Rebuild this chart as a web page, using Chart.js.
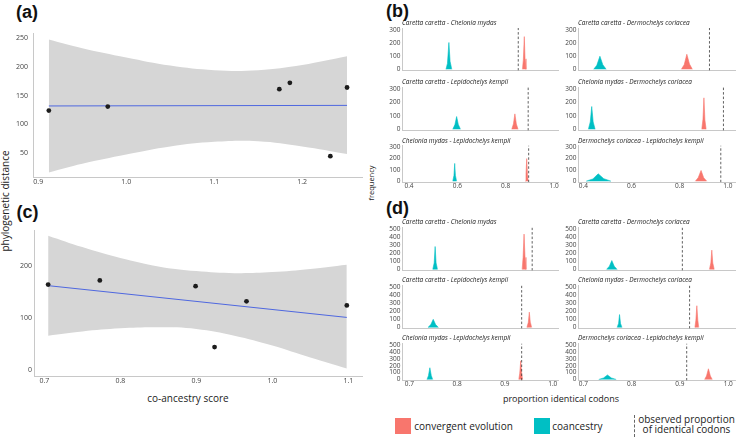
<!DOCTYPE html>
<html>
<head>
<meta charset="utf-8">
<script src="https://cdn.jsdelivr.net/npm/chart.js@4.4.1/dist/chart.umd.min.js"></script>
<style>
body{margin:0;background:#fff;}
#fig{position:relative;width:737px;height:437px;overflow:hidden;font-family:'Open Sans',sans-serif;color:#222;}
#fig canvas{position:absolute;}
.t{position:absolute;white-space:nowrap;}
.lab{font-family:'Liberation Sans',Arial,sans-serif;font-weight:bold;font-size:18px;line-height:18px;color:#111;}
.ft{font-style:italic;font-size:6.5px;line-height:8px;}
.key{position:absolute;width:16px;height:16px;}
</style>
</head>
<body>
<div id="fig">
  <div class="t lab" style="left:16px;top:3px">(a)</div>
  <div class="t lab" style="left:386px;top:1.5px">(b)</div>
  <div class="t lab" style="left:16.5px;top:203px">(c)</div>
  <div class="t lab" style="left:386px;top:198.5px">(d)</div>
  <div class="t" style="left:-70.4px;top:194.5px;width:150px;height:12px;line-height:12px;font-size:10px;text-align:center;transform:rotate(-90deg)">phylogenetic distance</div>
  <div class="t" style="left:88px;top:391.5px;width:200px;line-height:12px;font-size:10px;text-align:center">co-ancestry score</div>
  <div class="t" style="left:330.8px;top:177.5px;width:80px;height:10px;line-height:10px;font-size:7.5px;text-align:center;transform:rotate(-90deg)">frequency</div>
  <div class="t" style="left:461px;top:393.3px;width:200px;line-height:12px;font-size:9px;text-align:center">proportion identical codons</div>
  <div class="key" style="left:395px;top:418px;background:#F8766D"></div>
  <div class="t" style="left:414.3px;top:419.7px;line-height:12px;font-size:10px">convergent evolution</div>
  <div class="key" style="left:534px;top:418px;background:#00BFC4"></div>
  <div class="t" style="left:552.3px;top:419.7px;line-height:12px;font-size:10px">coancestry</div>
  <div style="position:absolute;left:634px;top:415px;height:22px;border-left:1px dashed #666"></div>
  <div class="t" style="left:626.5px;top:415.2px;width:120px;line-height:9.5px;font-size:10px;text-align:center">observed proportion<br>of identical codons</div>
</div>
<script>
// (a) co-ancestry (first set) vs phylogenetic distance
const aX = [0.912, 0.979, 1.174, 1.186, 1.232, 1.251];
const aY = [124, 131, 161, 172, 45, 164];
const aFitX = [0.912, 1.251];
const aFitY = [132, 133];
const aBandX = [0.912, 0.95, 1.0, 1.05, 1.1, 1.15, 1.2, 1.251];
const aBandHi = [247, 232, 216, 202, 194, 194, 203, 218];
const aBandLo = [17, 32, 48, 62, 70, 71, 62, 49];
const aTicksX = [0.9, 1.0, 1.1, 1.2];
const aTicksY = [50, 100, 150, 200, 250];

// (c)
const cX = [0.705, 0.773, 0.899, 0.924, 0.966, 1.098];
const cY = [164, 172, 161, 44, 132, 124];
const cFitX = [0.705, 1.098];
const cFitY = [162, 101];
const cBandX = [0.705, 0.75, 0.8, 0.85, 0.9, 0.95, 1.0, 1.05, 1.098];
const cBandHi = [258, 236, 215, 199, 190, 186, 188, 194, 202];
const cBandLo = [66, 74, 80, 82, 79, 66, 47, 24, 3];
const cTicksX = [0.7, 0.8, 0.9, 1.0, 1.1];
const cTicksY = [0, 100, 200];

const pairTitles = [
  'Caretta caretta - Chelonia mydas', 'Caretta caretta - Dermochelys coriacea',
  'Caretta caretta - Lepidochelys kempii', 'Chelonia mydas - Dermochelys coriacea',
  'Chelonia mydas - Lepidochelys kempii', 'Dermochelys coriacea - Lepidochelys kempii'
];

// (b) simulated distributions, [proportion, frequency]
const bObserved = [0.852, 0.924, 0.893, 0.982, 0.895, 0.971];
const bCoancestry = [
  [[0.553,0],[0.559,45],[0.565,205],[0.570,60],[0.577,0]],
  [[0.443,0],[0.456,30],[0.469,100],[0.481,35],[0.495,0]],
  [[0.581,0],[0.590,35],[0.597,95],[0.604,35],[0.613,0]],
  [[0.421,0],[0.429,55],[0.435,170],[0.441,55],[0.449,0]],
  [[0.581,0],[0.586,50],[0.589,157],[0.592,50],[0.597,0]],
  [[0.412,0],[0.440,20],[0.462,65],[0.485,22],[0.515,0]]
];
const bConvergent = [
  [[0.869,0],[0.873,70],[0.877,250],[0.880,80],[0.884,0]],
  [[0.807,0],[0.819,35],[0.830,115],[0.841,40],[0.853,0]],
  [[0.825,0],[0.832,40],[0.838,115],[0.844,40],[0.851,0]],
  [[0.892,0],[0.897,75],[0.901,235],[0.905,70],[0.910,0]],
  [[0.881,0],[0.884,60],[0.887,200],[0.890,60],[0.893,0]],
  [[0.865,0],[0.877,30],[0.889,95],[0.900,30],[0.913,0]]
];
const bTicksX = [0.4, 0.6, 0.8, 1.0];
const bTicksY = [0, 100, 200, 300];

// (d)
const dObserved = [0.957, 0.905, 0.935, 0.920, 0.935, 0.914];
const dCoancestry = [
  [[0.749,0],[0.752,80],[0.754,285],[0.756,80],[0.759,0]],
  [[0.748,0],[0.754,40],[0.759,110],[0.764,40],[0.770,0]],
  [[0.739,0],[0.745,35],[0.750,100],[0.755,35],[0.761,0]],
  [[0.770,0],[0.773,50],[0.775,160],[0.777,50],[0.780,0]],
  [[0.737,0],[0.740,55],[0.743,170],[0.746,55],[0.749,0]],
  [[0.732,0],[0.742,22],[0.750,65],[0.758,22],[0.768,0]]
];
const dConvergent = [
  [[0.936,0],[0.938,150],[0.940,440],[0.942,150],[0.944,0]],
  [[0.961,0],[0.964,80],[0.966,240],[0.968,80],[0.971,0]],
  [[0.946,0],[0.949,65],[0.951,190],[0.953,65],[0.956,0]],
  [[0.931,0],[0.933,90],[0.935,270],[0.937,90],[0.939,0]],
  [[0.929,0],[0.931,90],[0.933,270],[0.935,90],[0.937,0]],
  [[0.951,0],[0.955,50],[0.959,155],[0.963,50],[0.967,0]]
];
const dTicksX = [0.7, 0.8, 0.9, 1.0];
const dTicksY = [0, 100, 200, 300, 400, 500];

const RED = '#F8766D', TEAL = '#00BFC4';
const FONT = "'Open Sans', sans-serif";
const fig = document.getElementById('fig');

const pts = (xs, ys) => xs.map((x, i) => ({x: x, y: ys[i]}));
const pairs = arr => arr.map(p => ({x: p[0], y: p[1]}));

// canvas whose chart area lands on l,t,r,b of the page
function addCanvas(l, t, r, b, yw, xh) {
  const c = document.createElement('canvas');
  const left = Math.floor(l - yw), top = Math.floor(t - 6);
  const w = Math.ceil(r + 10 - left), h = Math.ceil(b + xh + 3 - top);
  c.width = w; c.height = h;
  c.style.left = left + 'px'; c.style.top = top + 'px';
  fig.appendChild(c);
  return {c, padding: {top: t - top, left: (l - yw) - left, right: w - (r - left), bottom: h - (b + xh - top)}};
}

function axis(min, max, ticks, o) {
  return {
    type: 'linear', min: min, max: max,
    grid: {display: false, drawTicks: false},
    border: {display: true, color: '#c8c8c8', width: 1},
    ticks: {display: o.show !== false, autoSkip: false, maxRotation: 0, padding: o.pad,
      color: '#444', font: {family: FONT, size: o.size}, callback: o.fmt},
    afterBuildTicks: s => { s.ticks = ticks.map(v => ({value: v})); },
    afterFit: s => { if (o.w != null) s.width = o.w; if (o.h != null) s.height = o.h; }
  };
}

function makeChart(box, datasets, xs, ys) {
  new Chart(box.c, {
    type: 'line',
    data: {datasets: datasets},
    options: {
      responsive: false, animation: false, events: [],
      layout: {padding: box.padding},
      plugins: {legend: {display: false}, tooltip: {enabled: false}},
      scales: {x: xs, y: ys}
    }
  });
}

function scatterPanel(rect, yw, xr, yr, px, py, fx, fy, bx, hi, lo, tx, ty, ypad) {
  const box = addCanvas(rect[0], rect[1], rect[2], rect[3], yw, 13);
  makeChart(box, [
    {data: pts(px, py), showLine: false, pointRadius: 2.4, pointBackgroundColor: '#1c1c1c', pointBorderWidth: 0},
    {data: pts(fx, fy), borderColor: '#4f68e0', borderWidth: 1, pointRadius: 0, fill: false},
    {data: pts(bx, hi), borderWidth: 0, pointRadius: 0, tension: 0.4, fill: '+1', backgroundColor: '#d6d6d6'},
    {data: pts(bx, lo), borderWidth: 0, pointRadius: 0, tension: 0.4, fill: false}
  ],
  axis(xr[0], xr[1], tx, {size: 7, pad: 1, h: 13, fmt: v => v.toFixed(1)}),
  axis(yr[0], yr[1], ty, {size: 7, pad: ypad, w: yw, fmt: v => String(v)}));
}

scatterPanel([33, 30, 362, 177], 33, [0.894, 1.268], [9, 258], aX, aY, aFitX, aFitY, aBandX, aBandHi, aBandLo, aTicksX, aTicksY, 5);
scatterPanel([34, 230, 362, 376], 34, [0.6864, 1.118], [-11.5, 268.5], cX, cY, cFitX, cFitY, cBandX, cBandHi, cBandLo, cTicksX, cTicksY, 2);

const cols = [[402, 558], [578, 735]];
const bRows = [[28, 72], [87, 131.3], [145.5, 182.3]];
const dRows = [[227.5, 271.3], [285.5, 329.3], [343.5, 380.5]];
const bXRange = [[0.371, 1.0164], [0.378, 1.030]];
const dXRange = [[0.6847, 1.011], [0.689, 1.014]];

function histGrid(rows, xRange, yr, obs, teal, red, tx, ty, titleY) {
  for (let i = 0; i < 6; i++) {
    const col = i % 2, row = Math.floor(i / 2);
    const l = cols[col][0], r = cols[col][1], t = rows[row][0], b = rows[row][1];
    const last = row === 2;
    const xh = last ? 10 : 1;
    const box = addCanvas(l, t, r, b, 24, xh);
    makeChart(box, [
      {data: [{x: obs[i], y: yr[0]}, {x: obs[i], y: yr[1]}], borderColor: '#3a3a3a', borderWidth: 0.8, borderDash: [2.5, 2], pointRadius: 0, fill: false},
      {data: pairs(red[i]), borderColor: RED, backgroundColor: RED, borderWidth: 0.6, pointRadius: 0, fill: 'origin'},
      {data: pairs(teal[i]), borderColor: TEAL, backgroundColor: TEAL, borderWidth: 0.6, pointRadius: 0, fill: 'origin'}
    ],
    axis(xRange[col][0], xRange[col][1], tx, {show: last, size: 6.5, pad: 0, h: xh, fmt: v => v.toFixed(1)}),
    axis(yr[0], yr[1], ty, {size: 6.5, pad: 1.5, w: 24, fmt: v => String(v)}));
    const d = document.createElement('div');
    d.className = 't ft';
    d.style.left = l + 'px';
    d.style.top = (titleY[row] - 4) + 'px';
    d.textContent = pairTitles[i];
    fig.appendChild(d);
  }
}

histGrid(bRows, bXRange, [-10, 316], bObserved, bCoancestry, bConvergent, bTicksX, bTicksY, [23, 81.7, 141]);
histGrid(dRows, dXRange, [-15, 522], dObserved, dCoancestry, dConvergent, dTicksX, dTicksY, [221.7, 280.3, 338.3]);
</script>
</body>
</html>
